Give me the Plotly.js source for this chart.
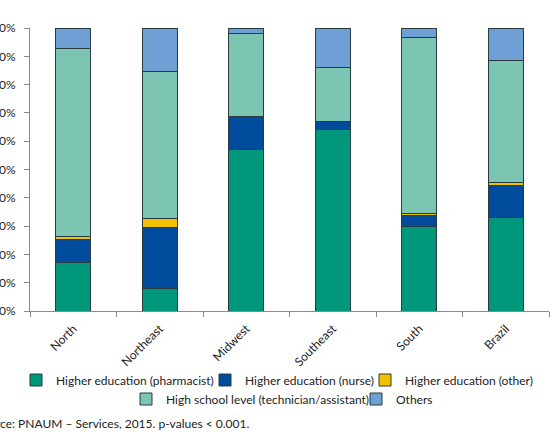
<!DOCTYPE html>
<html><head><meta charset="utf-8">
<script src="https://cdn.plot.ly/plotly-3.0.1.min.js"></script>
<style>html,body{margin:0;padding:0;background:#fff}#c{width:556px;height:432px}</style>
</head><body><div id="c"></div>
<script>
const regions = ["North","Northeast","Midwest","Southeast","South","Brazil"];
const pharmacist = [17.1, 8.0, 57.1, 64.0, 30.0, 33.1];
const nurse = [8.0, 21.6, 11.6, 3.1, 3.9, 11.1];
const otherHigher = [1.4, 3.2, 0.0, 0.0, 0.6, 1.3];
const highSchool = [66.3, 51.8, 29.4, 19.0, 62.2, 42.9];
const others = [7.2, 15.4, 1.9, 13.9, 3.3, 11.6];
const tickVals = [0,10,20,30,40,50,60,70,80,90,100];

const FONT = "Lato, 'Open Sans', sans-serif";
// plot area in pixels: x 30..549, y 28..311
const L = 30, W = 519, B = 311, H = 283;
const px = v => (v - L) / W;
const py = v => (B - v) / H;

const series = [
  {name:"Higher education (pharmacist)", y:pharmacist, color:"#00977A", legend:"legend"},
  {name:"Higher education (nurse)", y:nurse, color:"#004B9B", legend:"legend2"},
  {name:"Higher education (other)", y:otherHigher, color:"#F3C100", legend:"legend3"},
  {name:"High school level (technician/assistant)", y:highSchool, color:"#7CC5B3", legend:"legend4"},
  {name:"Others", y:others, color:"#6E9FD5", legend:"legend5"}
];
const data = series.map(s => ({
  type:"bar", x:regions, y:s.y, name:s.name, legend:s.legend,
  marker:{color:s.color, line:{color:"#2a3a40", width:1}},
  hoverinfo:"name+y"
}));

// legend entry text start (px) and row centre (px)
const legPos = [[52,380],[241,380],[401,380],[162,399],[392,399]];
const legKeys = ["legend","legend2","legend3","legend4","legend5"];

const layout = {
  width:556, height:432,
  margin:{l:30, r:7, t:28, b:121},
  barmode:"stack", bargap:0.595,
  paper_bgcolor:"#fff", plot_bgcolor:"#fff",
  font:{family:FONT, size:12, color:"#222"},
  showlegend:true,
  xaxis:{
    type:"category", tickangle:-45, showgrid:false, zeroline:false,
    showline:true, linecolor:"#8a8a8a", linewidth:1,
    ticks:"outside", tickson:"boundaries", ticklen:5, tickcolor:"#8a8a8a",
    ticklabelstandoff:5,
    tickfont:{family:FONT, size:12, color:"#222"}, automargin:false
  },
  yaxis:{
    range:[0,100], tickvals:tickVals, ticktext:tickVals.map(v=>v+"%"),
    showgrid:false, zeroline:false, showline:true, linecolor:"#8a8a8a", linewidth:1,
    ticks:"outside", ticklen:5, tickcolor:"#8a8a8a", ticklabelstandoff:6,
    tickfont:{family:FONT, size:12, color:"#222"}, automargin:false
  },
  annotations:[{
    text:"Source: PNAUM – Services, 2015. p-values < 0.001.",
    xref:"paper", yref:"paper", x:-0.108, y:py(423), xanchor:"left", yanchor:"middle",
    showarrow:false, font:{family:FONT, size:12, color:"#222"}
  }]
};
legKeys.forEach((k,i) => {
  layout[k] = {orientation:"h", x:px(legPos[i][0] - 36), xanchor:"left",
    y:py(legPos[i][1]), yanchor:"middle", bgcolor:"rgba(0,0,0,0)",
    font:{family:FONT, size:12, color:"#222"}, itemwidth:30};
});
Plotly.newPlot("c", data, layout, {staticPlot:true});
</script></body></html>
